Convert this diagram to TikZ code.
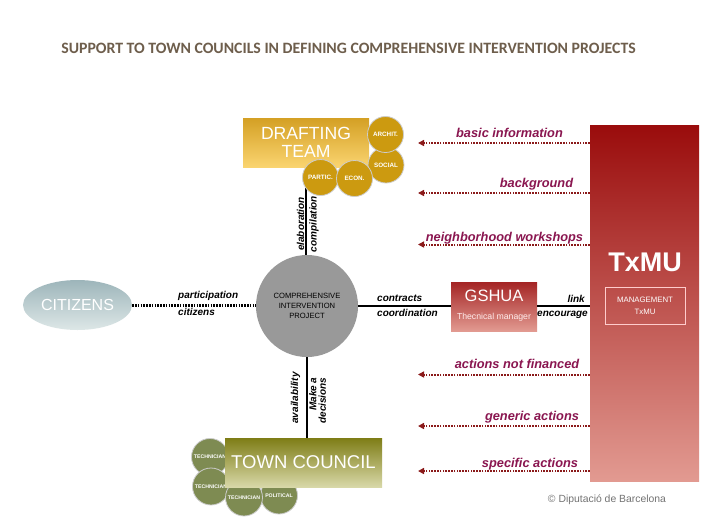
\documentclass[tikz,border=0pt]{standalone}
\usepackage{fontspec}
\setmainfont{Liberation Sans}
\newfontfamily\titlefont{Carlito}
\usetikzlibrary{arrows.meta,shapes.geometric}
\definecolor{goldc}{HTML}{CC9A10}
\definecolor{goldtop}{HTML}{D4A024}
\definecolor{goldbot}{HTML}{FAD470}
\definecolor{olivec}{HTML}{7E8B52}
\definecolor{olivetop}{HTML}{7E7D16}
\definecolor{olivebot}{HTML}{D8D8A8}
\definecolor{citop}{HTML}{9DB5BA}
\definecolor{cibot}{HTML}{DDE7E7}
\definecolor{redtop}{HTML}{9A0C0C}
\definecolor{redbot}{HTML}{E29A91}
\definecolor{arrred}{HTML}{8B1A1A}
\definecolor{labpurple}{HTML}{8A1650}
\definecolor{titlec}{HTML}{6E5E4C}
\tikzset{
  smallcirc/.style={circle, draw=black!20, line width=0.8pt, minimum size=#1, inner sep=0pt, text=white, font=\fontsize{6.3}{7}\selectfont\bfseries},
  goldcirc/.style={smallcirc=36pt, fill=goldc},
  olivecirc/.style={smallcirc=37pt, fill=olivec, font=\fontsize{5.2}{6}\selectfont\bfseries},
  linklab/.style={font=\fontsize{10}{11}\selectfont\bfseries\itshape, inner sep=0pt},
  purplelab/.style={font=\fontsize{12.8}{14}\selectfont\bfseries\itshape, text=labpurple, inner sep=0pt, anchor=base},
  arrline/.style={draw=arrred, line width=2pt, dash pattern=on 1.6pt off 1.2pt, -{Triangle[length=6pt,width=6pt]}},
  solidlink/.style={draw=black, line width=2.5pt},
}
\begin{document}
\begin{tikzpicture}[x=1pt,y=-1pt]
\useasboundingbox[fill=white] (0,0) rectangle (710,528);

% title
\node[font=\titlefont\bfseries\fontsize{15.8}{18}\selectfont, text=titlec] (title) at (348.5,48) {SUPPORT TO TOWN COUNCILS IN DEFINING COMPREHENSIVE INTERVENTION PROJECTS};

% central circle
\node[circle, fill=black!40, minimum size=102pt, inner sep=0pt, align=center, font=\fontsize{7.6}{10}\selectfont] (cip) at (307,306) {COMPREHENSIVE\\INTERVENTION\\PROJECT};

% drafting team
\node[rectangle, minimum width=126pt, minimum height=49pt, top color=goldtop, bottom color=goldbot, inner sep=0pt, text=white, align=center, font=\fontsize{17.6}{17.5}\selectfont] (dt) at (306,142.5) {DRAFTING\\TEAM};
\draw[solidlink] (dt.south) -- (dt.south |- cip.north);
\node[goldcirc] (social) at (386,165) {SOCIAL};
\node[goldcirc] (archit) at (385.5,134.5) {ARCHIT.};
\node[goldcirc] (partic) at (320.5,177.5) {PARTIC.};
\node[goldcirc] (econ) at (354.5,178.5) {ECON.};
\node[linklab, rotate=90] (elab) at (300.5,224) {elaboration};
\node[linklab, rotate=90] (compil) at (314,224) {compilation};

% town council
\node[olivecirc] (tec1) at (210,457) {TECHNICIAN};
\node[olivecirc] (tec2) at (211,486.5) {TECHNICIAN};
\node[olivecirc] (pol) at (279,495.5) {POLITICAL};
\node[olivecirc] (tec3) at (244,497.5) {TECHNICIAN};
\node[rectangle, minimum width=157pt, minimum height=49pt, top color=olivetop, bottom color=olivebot, inner sep=0pt, text=white, font=\fontsize{18.5}{20}\selectfont] (tc) at (303.5,462.5) {TOWN COUNCIL};
\draw[solidlink] (cip.south) -- (cip.south |- tc.north);
\node[linklab, rotate=90] (avail) at (295.5,398) {availability};
\node[linklab, rotate=90, align=right, font=\fontsize{10}{9.5}\selectfont\bfseries\itshape] (decide) at (317.5,400.5) {Make a\\decisions};

% citizens
\node[ellipse, minimum width=109pt, minimum height=50pt, inner sep=0pt, top color=citop, bottom color=cibot, text=white, font=\fontsize{16}{18}\selectfont] (cit) at (77.5,305) {CITIZENS};
\draw[draw=black, line width=3pt, dash pattern=on 1.6pt off 1.2pt] (cit.east) -- (cit.east -| cip.west);
\node[linklab, anchor=base west] (partlab) at (178,298) {participation};
\node[linklab, anchor=base west] (citlab) at (178,315.7) {citizens};

% GSHUA
\node[rectangle, minimum width=86pt, minimum height=49pt, top color=redtop!90!white, bottom color=redbot, inner sep=0pt] (gs) at (494,306.5) {};
\node[text=white, font=\fontsize{16.5}{18}\selectfont, inner sep=0pt] (gstitle) at (494,295.5) {GSHUA};
\node[text=white!92!red, font=\fontsize{8.7}{10}\selectfont, inner sep=0pt] (gssub) at (494,317) {Thecnical manager};
\draw[solidlink] (cip.east) -- (cip.east -| gs.west);
\node[linklab, anchor=base west] (contr) at (377,301) {contracts};
\node[linklab, anchor=base west] (coord) at (377,316.7) {coordination};

% TxMU
\node[rectangle, minimum width=109pt, minimum height=356pt, inner sep=0pt, top color=redtop, bottom color=redbot, middle color=redtop!50!redbot] (tx) at (644.5,303) {};
\node[text=white, font=\fontsize{27}{30}\selectfont\bfseries, inner sep=0pt] (txtitle) at (645,262) {TxMU};
\node[rectangle, draw=white!80!red, line width=1pt, minimum width=80pt, minimum height=37pt, inner sep=0pt, text=white, align=center, font=\fontsize{7.8}{12}\selectfont] (mgmt) at (645,305.5) {MANAGEMENT\\TxMU};
\draw[solidlink] (gs.east |- 0,306) -- (tx.west |- 0,306);
\node[linklab, anchor=base east] (linklab) at (585,302.3) {link};
\node[linklab, anchor=base east] (enc) at (588,316.7) {encourage};

% arrows from TxMU
\coordinate (e1) at (418,143);
\coordinate (e2) at (418,193);
\coordinate (e3) at (418,244.5);
\coordinate (e4) at (418,374.5);
\coordinate (e5) at (418,426);
\coordinate (e6) at (418,471);
\foreach \i in {1,...,6} { \draw[arrline] (e\i -| tx.west) -- (e\i); }
\node[purplelab] (l1) at (509.5,137.5) {basic information};
\node[purplelab] (l2) at (536.5,187) {background};
\node[purplelab] (l3) at (504.5,241.5) {neighborhood workshops};
\node[purplelab] (l4) at (517,368.5) {actions not financed};
\node[purplelab] (l5) at (532,420.5) {generic actions};
\node[purplelab] (l6) at (530,467.5) {specific actions};

% copyright
\node[text=black!55, font=\fontsize{10.4}{12}\selectfont] (copy) at (607,500) {© Diputació de Barcelona};
\end{tikzpicture}
\end{document}
